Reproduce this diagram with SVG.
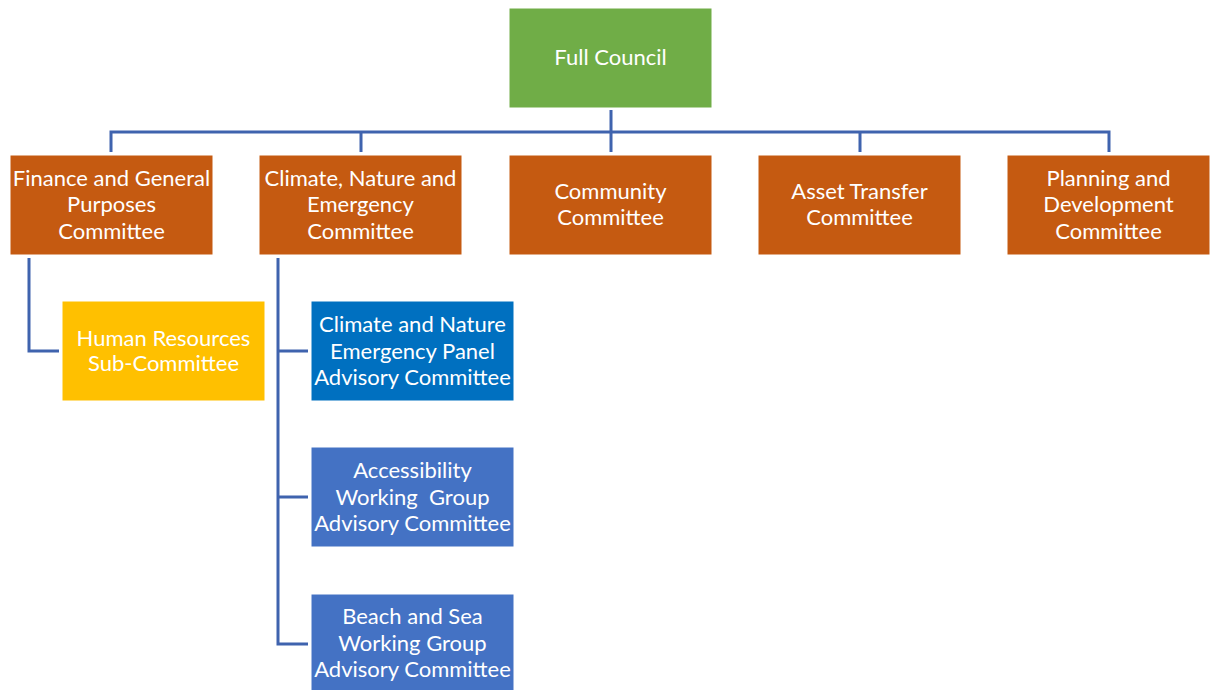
<svg xmlns="http://www.w3.org/2000/svg" width="1213" height="690" viewBox="0 0 1213 690">
<style>
.box{stroke:#ffffff;stroke-width:1}
.green{fill:#70AD47}
.orange{fill:#C55A11}
.gold{fill:#FFC000}
.blue{fill:#0070C0}
.lblue{fill:#4472C4}
text{font-family:Lato,"Open Sans","Liberation Sans",sans-serif;font-size:22px;fill:#ffffff;text-anchor:middle}
.conn{fill:none;stroke:#3F63AE;stroke-width:3}
</style>
<rect width="1213" height="690" fill="#ffffff"/>
<g id="connectors">
<path class="conn" d="M611 110V152M111 152V132H1109V152M361 132V152M860 132V152"/>
<path class="conn" d="M29 258V351H59"/>
<path class="conn" d="M278 258V644H308M278 351H308M278 497H308"/>
</g>
<g id="full-council"><rect class="box green" x="509" y="8" width="203" height="100"/><text x="610.5" y="65">Full Council</text></g>
<g id="finance"><rect class="box orange" x="10" y="155" width="203" height="100"/><text x="111.5" y="186">Finance and General</text><text x="111.5" y="212">Purposes</text><text x="111.5" y="239">Committee</text></g>
<g id="climate"><rect class="box orange" x="259" y="155" width="203" height="100"/><text x="360.5" y="186">Climate, Nature and</text><text x="360.5" y="212">Emergency</text><text x="360.5" y="239">Committee</text></g>
<g id="community"><rect class="box orange" x="509" y="155" width="203" height="100"/><text x="610.5" y="199">Community</text><text x="610.5" y="225">Committee</text></g>
<g id="asset"><rect class="box orange" x="758" y="155" width="203" height="100"/><text x="859.5" y="199">Asset Transfer</text><text x="859.5" y="225">Committee</text></g>
<g id="planning"><rect class="box orange" x="1007" y="155" width="203" height="100"/><text x="1108.5" y="186">Planning and</text><text x="1108.5" y="212">Development</text><text x="1108.5" y="239">Committee</text></g>
<g id="hr"><rect class="box gold" x="62" y="301" width="203" height="100"/><text x="163.5" y="346">Human Resources</text><text x="163.5" y="371">Sub-Committee</text></g>
<g id="cnep"><rect class="box blue" x="311" y="301" width="203" height="100"/><text x="412.5" y="332">Climate and Nature</text><text x="412.5" y="359">Emergency Panel</text><text x="412.5" y="385">Advisory Committee</text></g>
<g id="accessibility"><rect class="box lblue" x="311" y="447" width="203" height="100"/><text x="412.5" y="478">Accessibility</text><text x="412.5" y="505" xml:space="preserve">Working  Group</text><text x="412.5" y="531">Advisory Committee</text></g>
<g id="beach"><rect class="box lblue" x="311" y="594" width="203" height="100"/><text x="412.5" y="624">Beach and Sea</text><text x="412.5" y="651">Working Group</text><text x="412.5" y="677">Advisory Committee</text></g>
</svg>
